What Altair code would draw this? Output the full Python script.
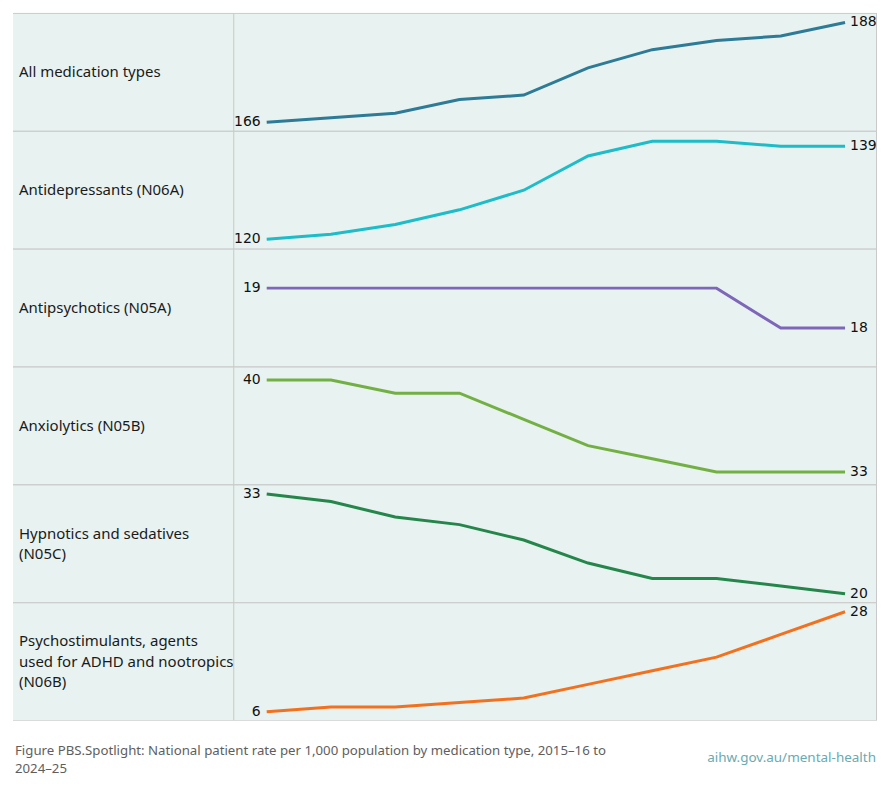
import altair as alt
import pandas as pd

years = ["2015–16", "2016–17", "2017–18", "2018–19", "2019–20",
         "2020–21", "2021–22", "2022–23", "2023–24", "2024–25"]

categories = [
    "All medication types",
    "Antidepressants (N06A)",
    "Antipsychotics (N05A)",
    "Anxiolytics (N05B)",
    "Hypnotics and sedatives\n(N05C)",
    "Psychostimulants, agents\nused for ADHD and nootropics\n(N06B)",
]

all_types = [166, 167, 168, 171, 172, 178, 182, 184, 185, 188]
antidepressants = [120, 121, 123, 126, 130, 137, 140, 140, 139, 139]
antipsychotics = [19, 19, 19, 19, 19, 19, 19, 19, 18, 18]
anxiolytics = [40, 40, 39, 39, 37, 35, 34, 33, 33, 33]
hypnotics = [33, 32, 30, 29, 27, 24, 22, 22, 21, 20]
psychostimulants = [6, 7, 7, 8, 9, 12, 15, 18, 23, 28]

series = [all_types, antidepressants, antipsychotics, anxiolytics, hypnotics, psychostimulants]
colors = ["#2d7b96", "#1dbcc9", "#7e67b8", "#73b044", "#25864b", "#f2711f"]
ypad = [9, 10, 39, 13, 9, 9]

caption_text = ("Figure PBS.Spotlight: National patient rate per 1,000 population by medication type, 2015–16 to\n"
                "2024–25")
source = "aihw.gov.au/mental-health"

ROW_H = 118
LAB_W = 221
PLOT_W = 644
W = LAB_W + PLOT_W
BG = "#e8f2f0"
GRID = "#c9c9c9"
LINE_H = 20.5

rows = []
for cat, vals, col, pad in zip(categories, series, colors, ypad):
    df = pd.DataFrame({"year": years, "value": vals})
    one = pd.DataFrame({"k": [0]})
    sep = alt.Chart(one).mark_rule(color=GRID, strokeWidth=1).encode(
        x=alt.value(LAB_W), y=alt.value(0), y2=alt.value(ROW_H)
    )
    right = alt.Chart(one).mark_rule(color=GRID, strokeWidth=1).encode(
        x=alt.value(W - 0.5), y=alt.value(0), y2=alt.value(ROW_H)
    )
    top = alt.Chart(one).mark_rule(color=GRID, strokeWidth=1).encode(
        x=alt.value(0), x2=alt.value(W), y=alt.value(0)
    )
    bottom = alt.Chart(one).mark_rule(color=GRID, strokeWidth=1).encode(
        x=alt.value(0), x2=alt.value(W), y=alt.value(ROW_H)
    )
    n_lines = cat.count("\n") + 1
    lab = alt.Chart(pd.DataFrame({"label": [cat]})).mark_text(
        align="left", baseline="middle", lineBreak="\n", lineHeight=LINE_H,
        font="Noto Sans", fontSize=15, color="#1a1a1a"
    ).encode(
        x=alt.value(6), y=alt.value(ROW_H / 2 - (n_lines - 1) * LINE_H / 2), text="label:N"
    )

    xenc = alt.X("year:O", sort=years, axis=None,
                 scale=alt.Scale(type="point", padding=0, range=[LAB_W + 33, LAB_W + 612]))
    yenc = alt.Y("value:Q", axis=None, scale=alt.Scale(zero=False, nice=False, padding=pad))
    base = alt.Chart(df).encode(x=xenc, y=yenc)
    line = base.mark_line(color=col, strokeWidth=3)
    first = base.transform_filter(alt.datum.year == years[0]).mark_text(
        align="right", baseline="middle", dx=-6, font="DejaVu Sans", fontSize=14, color="#111111"
    ).encode(text="value:Q")
    last = base.transform_filter(alt.datum.year == years[-1]).mark_text(
        align="left", baseline="middle", dx=5, font="DejaVu Sans", fontSize=14, color="#111111"
    ).encode(text="value:Q")
    rows.append(alt.layer(sep, right, top, bottom, lab, line, first, last).properties(width=W, height=ROW_H))

caption = alt.Chart(pd.DataFrame({"t": [caption_text]})).mark_text(
    align="left", baseline="middle", lineBreak="\n", lineHeight=18,
    font="Noto Sans", fontSize=13.25, color="#5e5e5e"
).encode(x=alt.value(2), y=alt.value(30), text="t:N")
src = alt.Chart(pd.DataFrame({"t": [source]})).mark_text(
    align="right", baseline="middle", font="Noto Sans", fontSize=13.5, color="#6aaab2"
).encode(x=alt.value(W - 1), y=alt.value(37), text="t:N")
cap_chart = alt.layer(caption, src).properties(
    width=W, height=70,
    view=alt.ViewBackground(fill="white", stroke="transparent"),
)

chart = alt.vconcat(*rows, cap_chart, spacing=0, bounds="flush").properties(
    padding={"left": 12, "top": 12, "right": 12, "bottom": 5},
    background="white",
).configure_view(
    fill=BG, stroke="transparent", strokeWidth=0
).configure_concat(spacing=0)

chart.save("out.html", embed_options={"renderer": "svg", "actions": False})
